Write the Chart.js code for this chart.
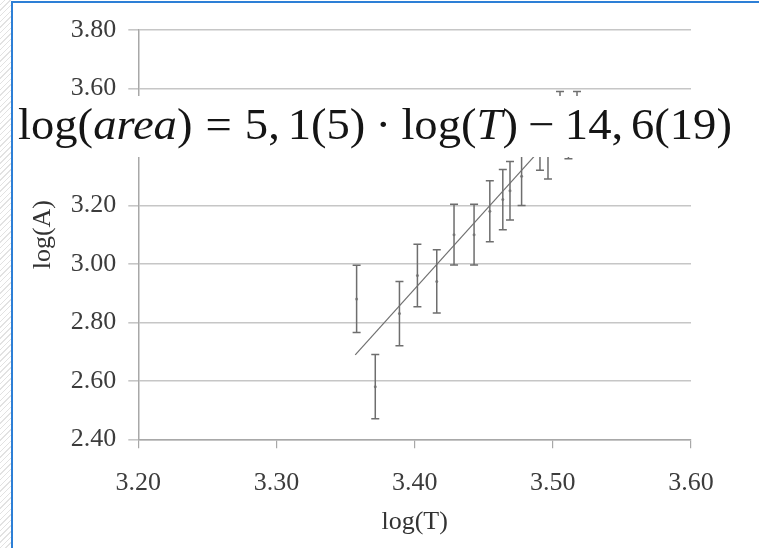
<!DOCTYPE html>
<html>
<head>
<meta charset="utf-8">
<script src="https://cdn.jsdelivr.net/npm/chart.js@4.4.0/dist/chart.umd.min.js"></script>
<style>
  html, body { margin: 0; padding: 0; background: #fff; }
  #wrap { position: relative; width: 759px; height: 548px; overflow: hidden; }
  #hatch { position: absolute; left: 0; top: 0; width: 11px; height: 548px;
    background: repeating-linear-gradient(135deg, #fff 0 3px, #e2e2e2 3px 4px); }
  #frame { position: absolute; left: 11px; top: 1px; width: 760px; height: 560px;
    border-left: 2px solid #2d7fd6; border-top: 2px solid #2d7fd6; }
  canvas { position: absolute; left: 0; top: 0; }
  #eq { position: absolute; left: 13px; top: 96px; width: 746px; height: 61px; background: #fff;
    font-family: "Liberation Serif", serif; font-size: 44px; color: #151515; white-space: nowrap; }
  #eq .t { position: absolute; left: 5px; top: -2px; line-height: 61px;
    transform: scaleX(1.06); transform-origin: 0 50%; }
  #eq .rel { margin: 0 0.28em; }
  #eq .bin { margin: 0 0.22em; }
  #eq .thin { display: inline-block; width: 0.167em; }
</style>
</head>
<body>
<div id="wrap">
  <div id="hatch"></div>
  <canvas id="chart" width="759" height="548"></canvas>
  <div id="frame"></div>
  <div id="eq"><span class="t">log(<i>area</i>)<span class="rel">=</span>5,<span class="thin"></span>1(5)<span class="bin">·</span>log(<i>T</i>)<span class="bin">−</span>14,<span class="thin"></span>6(19)</span></div>
</div>
<script>
// measurements: log(T), log(A) and the error on log(A)
const logT = [3.358, 3.3715, 3.389, 3.402, 3.416, 3.4285, 3.443, 3.4544, 3.4638, 3.469, 3.4774, 3.4907, 3.4965, 3.5052, 3.5113, 3.5175];
const logA = [2.88, 2.58, 2.83, 2.96, 2.94, 3.10, 3.10, 3.18, 3.22, 3.25, 3.30, 3.42, 3.39, 3.49, 3.46, 3.49];
const errA = [0.115, 0.11, 0.11, 0.107, 0.108, 0.104, 0.104, 0.104, 0.103, 0.10, 0.10, 0.10, 0.10, 0.10, 0.10, 0.10];

// linear fit, end points
const fitT = [3.357, 3.5175];
const fitA = [2.689, 3.53];

const xTicks = [3.20, 3.30, 3.40, 3.50, 3.60];
const yTicks = [2.40, 2.60, 2.80, 3.00, 3.20, 3.40, 3.60, 3.80];

const serif = 'Liberation Serif';

// draws the vertical error bars with little caps
const errorBars = {
  id: 'errorBars',
  afterDatasetsDraw(chart) {
    const { ctx, scales: { x, y } } = chart;
    ctx.save();
    ctx.strokeStyle = '#6e6e6e';
    ctx.lineWidth = 1.5;
    logT.forEach((t, i) => {
      const px = x.getPixelForValue(t);
      const top = y.getPixelForValue(logA[i] + errA[i]);
      const bot = y.getPixelForValue(logA[i] - errA[i]);
      ctx.beginPath();
      ctx.moveTo(px, top); ctx.lineTo(px, bot);
      ctx.moveTo(px - 4, top); ctx.lineTo(px + 4, top);
      ctx.moveTo(px - 4, bot); ctx.lineTo(px + 4, bot);
      ctx.stroke();
    });
    ctx.restore();
  }
};

new Chart(document.getElementById('chart'), {
  type: 'scatter',
  data: {
    datasets: [
      {
        data: logT.map((t, i) => ({ x: t, y: logA[i] })),
        pointRadius: 1.5,
        pointBackgroundColor: '#8a8a8a',
        pointBorderWidth: 0
      },
      {
        data: fitT.map((t, i) => ({ x: t, y: fitA[i] })),
        showLine: true,
        pointRadius: 0,
        borderColor: '#707070',
        borderWidth: 1.2
      }
    ]
  },
  options: {
    responsive: false,
    animation: false,
    layout: { padding: { left: 12, top: 30, right: 68, bottom: 0 } },
    plugins: { legend: { display: false }, tooltip: { enabled: false } },
    scales: {
      x: {
        type: 'linear',
        min: 3.2,
        max: 3.6,
        afterBuildTicks: s => { s.ticks = xTicks.map(v => ({ value: v })); },
        afterFit: s => { s.height = 108.7; },
        grid: { drawOnChartArea: false, tickLength: 9, color: '#a8a8a8', lineWidth: 1.2 },
        border: { color: '#a8a8a8', width: 1.5 },
        ticks: {
          padding: 19,
          color: '#3c3c3c',
          font: { family: serif, size: 26 },
          callback: v => v.toFixed(2)
        },
        title: {
          display: true,
          text: 'log(T)',
          color: '#333',
          font: { family: serif, size: 26 },
          padding: { top: 0, bottom: 10 }
        }
      },
      y: {
        min: 2.4,
        max: 3.8,
        afterBuildTicks: s => { s.ticks = yTicks.map(v => ({ value: v })); },
        afterFit: s => { s.width = 126.3; },
        grid: { tickLength: 10, color: '#c6c6c6', lineWidth: 1.6 },
        border: { color: '#a8a8a8', width: 1.5 },
        ticks: {
          padding: 12,
          color: '#3c3c3c',
          font: { family: serif, size: 26 },
          callback: v => v.toFixed(2)
        },
        title: {
          display: true,
          text: 'log(A)',
          color: '#333',
          font: { family: serif, size: 26 },
          padding: { top: 16 }
        }
      }
    }
  },
  plugins: [errorBars]
});
</script>
</body>
</html>
